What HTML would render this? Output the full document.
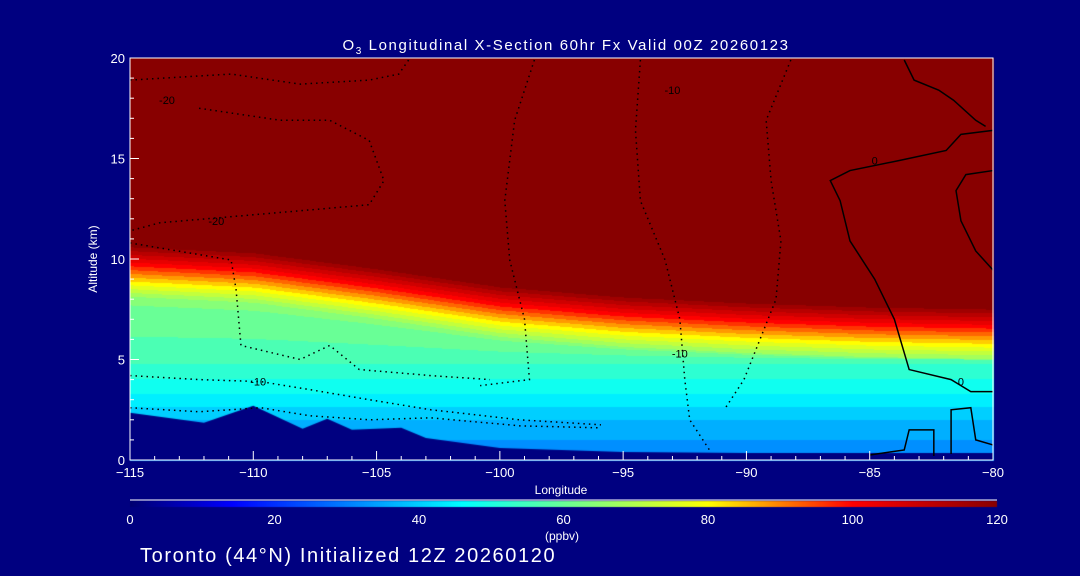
<!DOCTYPE html>
<html><head><meta charset="utf-8"><style>
html,body{margin:0;padding:0;background:#000080;}
#wrap{position:relative;width:1080px;height:576px;background:#000080;overflow:hidden;font-family:"Liberation Sans",sans-serif;color:#fff;}
canvas{position:absolute;left:0;top:0;}
svg{position:absolute;left:0;top:0;}
</style></head><body>
<div id="wrap">
<canvas id="field" width="1080" height="576"></canvas>
<svg id="svg" width="1080" height="576">
<text x="566" y="50" font-size="15" fill="#fff" text-anchor="middle" letter-spacing="1.6">O<tspan font-size="10" dy="4">3</tspan><tspan dy="-4"> Longitudinal X-Section 60hr  Fx Valid 00Z 20260123</tspan></text>
<text x="561" y="494" font-size="12" fill="#fff" text-anchor="middle">Longitude</text>
<text x="97" y="259" font-size="12" fill="#fff" text-anchor="middle" transform="rotate(-90 97 259)">Altitude (km)</text>
<text x="562" y="540" font-size="12" fill="#fff" text-anchor="middle">(ppbv)</text>
<text x="140" y="562" font-size="20" fill="#fff" letter-spacing="1.6">Toronto (44°N) Initialized 12Z 20260120</text>
</svg>
</div>
<script>
// ---- data ----
const lonTicks = [-115,-110,-105,-100,-95,-90,-85,-80];
const altTicks = [0,5,10,15,20];
const cbTicks = [0,20,40,60,80,100,120];
const tropLon = [-115,-110,-105,-100,-95,-90,-85,-80];
const tropAlt = [10.7,10.4,9.6,8.7,8.2,7.9,7.7,7.6];
const terrLon = [-115,-112,-110,-108,-107,-106,-104,-103,-100,-95,-90,-85,-80];
const terrAlt = [2.35,1.85,2.7,1.55,2.05,1.5,1.6,1.1,0.6,0.4,0.35,0.35,0.35];
const profAlt = [0,2,3.5,5];
const profVal = [30,38,47,55];
const contourDotted = [
 [[-98.6,19.9],[-99.4,16.9],[-99.8,12.9],[-99.6,9.95],[-99.0,7.0],[-98.8,4.0],[-100.8,3.7]],
 [[-94.3,19.9],[-94.5,16.4],[-94.3,12.9],[-93.3,9.95],[-92.7,7.0],[-92.5,4.0],[-92.3,2.0],[-91.5,0.5]],
 [[-88.2,19.9],[-89.2,16.9],[-89.0,13.9],[-88.6,10.9],[-88.8,8.0],[-90.1,4.0],[-90.9,2.5]],
 [[-115,4.2],[-112.2,4.0],[-109.7,3.9],[-107.7,3.5],[-105.3,3.0],[-102.8,2.5],[-99.2,2.0],[-95.9,1.75]],
 [[-115,2.6],[-112.2,2.4],[-109.7,2.6],[-107.7,2.2],[-105.3,2.0],[-102.8,2.1],[-99.2,1.7],[-95.9,1.6]],
 [[-115,10.8],[-110.9,9.95],[-110.7,8.5],[-110.5,5.7],[-108.1,5.0],[-106.9,5.7],[-105.7,4.5],[-102.8,4.2],[-100.4,4.0]],
 [[-115,18.9],[-110.9,19.2],[-108.1,18.7],[-105.3,18.9],[-104.1,19.2],[-103.7,19.9]],
 [[-112.2,17.5],[-108.9,16.9],[-106.9,16.9],[-105.3,15.9],[-104.7,13.9],[-105.3,12.7],[-108.1,12.4],[-113.8,11.8],[-115,11.4]]
];
const contourSolid = [
 [[-83.6,19.9],[-83.2,18.9],[-82.2,18.4],[-81.6,17.9],[-80.7,16.9],[-80.3,16.6]],
 [[-80,16.4],[-81.3,16.2],[-81.9,15.4],[-83.8,14.9],[-85.8,14.4],[-86.6,13.9],[-86.2,12.9],[-85.8,10.9],[-84.8,9.0],[-84.0,7.0],[-83.4,4.5],[-81.7,4.0],[-80.9,3.4],[-80,3.4]],
 [[-80,9.45],[-80.7,10.4],[-81.3,11.9],[-81.5,13.4],[-81.1,14.2],[-80,14.4]],
 [[-85,0.25],[-83.6,0.5],[-83.4,1.5],[-82.4,1.5],[-82.4,0.2]],
 [[-81.7,0.3],[-81.7,2.5],[-80.9,2.6],[-80.7,1.0],[-80,0.75]]
];
const contourLabels = [["-20",-113.5,17.9],["-20",-111.5,11.9],["-10",-109.8,3.9],["-10",-92.7,5.3],["-10",-93.0,18.4],["0",-84.8,14.9],["0",-81.3,3.9]];
// ---- axes ----
const X0=130,X1=993,Y0=460,Y1=58;
const xs=l=>X0+(l+115)/35*(X1-X0);
const ys=a=>Y0-a/20*(Y0-Y1);
const CB0=130,CB1=997;
const cbx=v=>CB0+v/120*(CB1-CB0);
function interp(xa,ya,x){if(x<=xa[0])return ya[0];for(let i=1;i<xa.length;i++){if(x<=xa[i]){const t=(x-xa[i-1])/(xa[i]-xa[i-1]);return ya[i-1]+t*(ya[i]-ya[i-1]);}}return ya[ya.length-1];}
const stops=[[0,[0,0,112]],[14,[0,0,255]],[46,[0,255,255]],[80,[255,255,0]],[100,[255,0,0]],[120,[136,0,0]]];
function cmap(v){v=Math.max(0,Math.min(120,v));for(let i=1;i<stops.length;i++){if(v<=stops[i][0]){const t=(v-stops[i-1][0])/(stops[i][0]-stops[i-1][0]);const a=stops[i-1][1],b=stops[i][1];return `rgb(${Math.round(a[0]+t*(b[0]-a[0]))},${Math.round(a[1]+t*(b[1]-a[1]))},${Math.round(a[2]+t*(b[2]-a[2]))})`;}}return 'rgb(136,0,0)';}
function val(lon,alt){const tr=interp(tropLon,tropAlt,lon);const d=alt-tr;if(d>=0)return 120;if(d>-2.6)return 65+(d+2.6)/2.6*55;const base=tr-2.6;if(alt<=5)return interp(profAlt,profVal,alt);return 55+(alt-5)/Math.max(0.1,base-5)*8;}
const ctx=document.getElementById('field').getContext('2d');
for(let px=X0;px<X1;px+=2){const lon=-115+(px-X0)/(X1-X0)*35;let prev=null,start=Y1;for(let py=Y1;py<=Y0;py++){const alt=(Y0-py)/(Y0-Y1)*20;let v=val(lon,alt);v=Math.round(v/4)*4;if(prev===null){prev=v;start=py;}if(v!==prev||py===Y0){ctx.fillStyle=cmap(prev);ctx.fillRect(px,start,2,py-start+1);prev=v;start=py;}}}
// terrain
ctx.fillStyle='#000080';ctx.beginPath();ctx.moveTo(X0,Y0);for(let i=0;i<terrLon.length;i++)ctx.lineTo(xs(terrLon[i]),ys(terrAlt[i]));ctx.lineTo(X1,Y0);ctx.closePath();ctx.fill();
// colorbar
for(let px=CB0;px<CB1;px++){ctx.fillStyle=cmap((px-CB0)/(CB1-CB0)*120);ctx.fillRect(px,501,1,6);}
const svg=document.getElementById('svg');const NS='http://www.w3.org/2000/svg';
function mk(tag,attrs){const e=document.createElementNS(NS,tag);for(const k in attrs)e.setAttribute(k,attrs[k]);svg.appendChild(e);return e;}
contourDotted.forEach(c=>{const e=mk('polyline',{points:c.map(p=>xs(p[0])+','+ys(p[1])).join(' '),fill:'none',stroke:'#000','stroke-width':1.5,'stroke-dasharray':'1.5 4'});

});
contourSolid.forEach(c=>{const e=mk('polyline',{points:c.map(p=>xs(p[0])+','+ys(p[1])).join(' '),fill:'none',stroke:'#000','stroke-width':1.5});

});
contourLabels.forEach(l=>{const e=mk('text',{x:xs(l[1]),y:ys(l[2])+4,'font-size':11,fill:'#000','text-anchor':'middle'});e.textContent=l[0];

});
// frame
const fr=mk('rect',{x:X0,y:Y1,width:X1-X0,height:Y0-Y1,fill:'none',stroke:'#fff','stroke-width':1});


for(let l=-115;l<=-80;l++){const maj=(l%5===0);const t=mk('line',{x1:xs(l),x2:xs(l),y1:Y0,y2:Y0-(maj?9:4),stroke:'#fff'});

}
for(let a=0;a<=20;a++){const maj=(a%5===0);const t=mk('line',{x1:X0,x2:X0+(maj?9:4),y1:ys(a),y2:ys(a),stroke:'#fff'});

}
lonTicks.forEach(l=>{const t=mk('text',{x:xs(l),y:477,'font-size':13,fill:'#fff','text-anchor':'middle'});t.textContent=(l<0?'\u2212'+(-l):l);

});
altTicks.forEach(a=>{const t=mk('text',{x:125,y:ys(a)+5,'font-size':13,fill:'#fff','text-anchor':'end'});t.textContent=a;

});
const cbl=mk('line',{x1:CB0,x2:CB1,y1:500,y2:500,stroke:'#fff'});


cbTicks.forEach(v=>{const t=mk('text',{x:cbx(v),y:524,'font-size':13,fill:'#fff','text-anchor':'middle'});t.textContent=v;

});
</script>
</body></html>
